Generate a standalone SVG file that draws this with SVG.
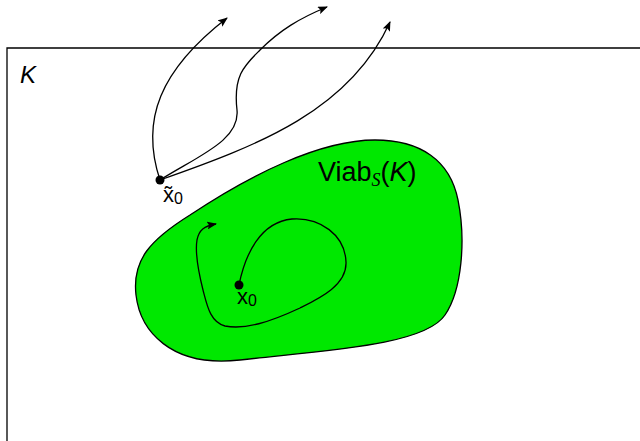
<svg xmlns="http://www.w3.org/2000/svg" width="640" height="441" viewBox="0 0 640 441">
<style>
.ln{fill:none;stroke:#000;stroke-width:1.3}
.t{font-family:"Liberation Sans","DejaVu Sans",sans-serif;fill:#000}
</style>
<defs>
<marker id="ah" viewBox="0 0 10 8" refX="9" refY="4" markerWidth="10" markerHeight="8" markerUnits="userSpaceOnUse" orient="auto">
<path d="M0,0 L10,4 L0,8 L2,4 Z" fill="#000"/>
</marker>
</defs>
<rect width="640" height="441" fill="#fff"/>
<g id="K">
<path class="ln" d="M7,441 L7,48 L640,48"/>
<text class="t" x="20" y="83" font-size="24" font-style="italic">K</text>
</g>
<g id="viab">
<path d="M375,140 C420,140 450,160 458,200 C466,240 462,290 445,315 C425,345 330,350 240,360 C170,368 140,330 136,295 C132,260 150,240 190,215 C250,175 320,140 375,140 Z" fill="#00e800" stroke="#000" stroke-width="1.3"/>
<text class="t" x="318" y="181" font-size="27">Viab<tspan font-family="'Liberation Serif',serif" font-style="italic" font-size="18" dy="5">S</tspan><tspan dy="-5">(</tspan><tspan font-style="italic">K</tspan>)</text>
</g>
<g id="connectors">
<path class="ln" marker-end="url(#ah)" d="M160,180 C140,120 160,70 227,18"/>
<path class="ln" marker-end="url(#ah)" d="M160,180 C200,155 240,140 237,110 C233,75 245,65 260,50 C280,30 300,18 327,7"/>
<path class="ln" marker-end="url(#ah)" d="M160,180 C260,145 350,110 390,22"/>
<path class="ln" marker-end="url(#ah)" d="M239,285 C245,255 260,222 292,219 C320,217 345,235 346,262 C347,285 320,298 300,308 C270,322 245,330 225,326 C210,322 207,305 203,290 C198,270 195,252 197,240 C199,230 204,226 216,224"/>
</g>
<g id="x0t">
<circle cx="160" cy="180" r="4.5" fill="#000"/>
<text class="t" x="163" y="202" font-size="22">x̃<tspan font-size="16" dy="2">0</tspan></text>
</g>
<g id="x0">
<circle cx="239" cy="285" r="4.5" fill="#000"/>
<text class="t" x="237" y="304" font-size="22">x<tspan font-size="16" dy="2">0</tspan></text>
</g>
</svg>
